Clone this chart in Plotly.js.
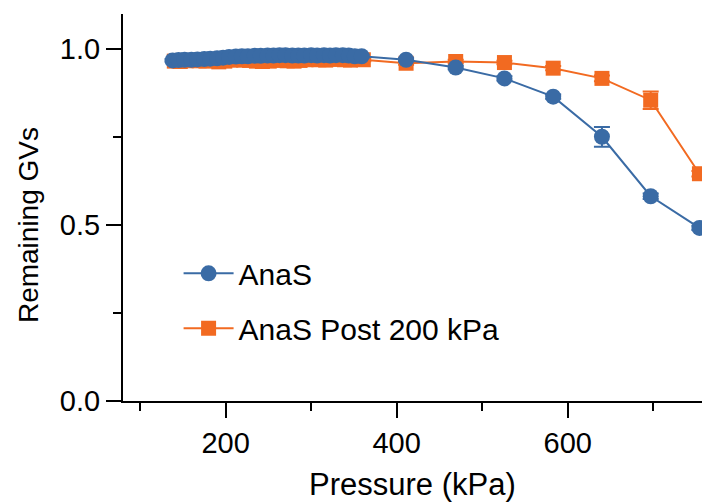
<!DOCTYPE html>
<html>
<head>
<meta charset="utf-8">
<script src="https://cdn.plot.ly/plotly-3.0.1.min.js"></script>
<style>html,body{margin:0;padding:0;background:#fff;}#chart{width:702px;height:502px;}</style>
</head>
<body>
<div id="chart"></div>
<script>
// Pressure (kPa) and remaining GV fraction
const anasPressure = [138, 145, 152, 160, 167, 175, 182, 190, 197, 204, 212, 219, 226, 234, 241, 249, 256, 263, 270, 278, 285, 292, 300, 307, 315, 322, 329, 337, 344, 351, 359, 411, 469, 526, 583, 640, 697, 754];
const anasValue    = [0.968, 0.969, 0.970, 0.970, 0.971, 0.972, 0.973, 0.974, 0.976, 0.978, 0.979, 0.980, 0.980, 0.981, 0.981, 0.982, 0.982, 0.983, 0.983, 0.982, 0.982, 0.982, 0.983, 0.982, 0.983, 0.982, 0.983, 0.983, 0.982, 0.980, 0.980, 0.970, 0.948, 0.917, 0.865, 0.751, 0.582, 0.492];
const anasError    = [0.004, 0.004, 0.004, 0.004, 0.004, 0.004, 0.004, 0.004, 0.004, 0.004, 0.004, 0.004, 0.004, 0.004, 0.004, 0.004, 0.004, 0.004, 0.004, 0.004, 0.004, 0.004, 0.004, 0.004, 0.004, 0.004, 0.004, 0.004, 0.004, 0.004, 0.004, 0.004, 0.005, 0.006, 0.006, 0.028, 0.008, 0.006];

const postPressure = [140, 147, 154, 162, 169, 177, 184, 192, 199, 206, 214, 221, 228, 236, 243, 251, 258, 265, 272, 280, 287, 294, 302, 309, 317, 324, 331, 339, 346, 353, 361, 411, 469, 526, 583, 640, 697, 754];
const postValue    = [0.966, 0.965, 0.967, 0.968, 0.967, 0.966, 0.968, 0.964, 0.966, 0.969, 0.970, 0.969, 0.968, 0.966, 0.965, 0.966, 0.968, 0.970, 0.967, 0.966, 0.968, 0.970, 0.971, 0.970, 0.969, 0.971, 0.972, 0.970, 0.969, 0.971, 0.970, 0.960, 0.965, 0.962, 0.946, 0.917, 0.855, 0.646];
const postError    = [0.004, 0.004, 0.004, 0.004, 0.004, 0.004, 0.004, 0.004, 0.004, 0.004, 0.004, 0.004, 0.004, 0.004, 0.004, 0.004, 0.004, 0.004, 0.004, 0.004, 0.004, 0.004, 0.004, 0.004, 0.004, 0.004, 0.004, 0.004, 0.004, 0.004, 0.004, 0.004, 0.005, 0.005, 0.006, 0.008, 0.025, 0.008];

const seriesNames = ["AnaS", "AnaS Post 200 kPa"];
const xTickVals = [200, 400, 600];
const yTickVals = [0, 0.5, 1.0];
const yTickText = ["0.0", "0.5", "1.0"];

const BLUE = "#3A6BA5";
const ORANGE = "#F26A21";
const FONT = "Liberation Sans, Arial, sans-serif";

const traces = [
  {
    x: postPressure, y: postValue, name: seriesNames[1], type: "scatter", mode: "lines+markers",
    line: {color: ORANGE, width: 2},
    marker: {symbol: "square", size: 15, color: ORANGE},
    error_y: {type: "data", array: postError, visible: true, color: ORANGE, thickness: 2, width: 8},
    legendrank: 2, legendgroup: "b"
  },
  {
    x: anasPressure, y: anasValue, name: seriesNames[0], type: "scatter", mode: "lines+markers",
    line: {color: BLUE, width: 2},
    marker: {symbol: "circle", size: 16, color: BLUE},
    error_y: {type: "data", array: anasError, visible: true, color: BLUE, thickness: 2, width: 8},
    legendrank: 1, legendgroup: "a"
  }
];

const axisCommon = {
  showgrid: false, zeroline: false, showline: true, linecolor: "#000", linewidth: 2,
  ticks: "outside", ticklen: 15, tickwidth: 2, tickcolor: "#000",
  tickfont: {family: FONT, size: 29, color: "#000"}
};

const layout = {
  width: 702, height: 502,
  margin: {l: 123, r: 0, t: 14, b: 101},
  paper_bgcolor: "#fff", plot_bgcolor: "#fff",
  showlegend: true,
  legend: {
    x: 0.096, y: 0.397, xanchor: "left", yanchor: "top",
    font: {family: FONT, size: 30, color: "#000"},
    bgcolor: "rgba(0,0,0,0)", itemwidth: 50, tracegroupgap: 13
  },
  xaxis: Object.assign({}, axisCommon, {
    range: [80, 757], tickmode: "array", tickvals: xTickVals,
    minor: {dtick: 100, tick0: 0, ticks: "outside", ticklen: 8, tickwidth: 2, tickcolor: "#000"}
  }),
  yaxis: Object.assign({}, axisCommon, {
    range: [0, 1.1], tickmode: "array", tickvals: yTickVals, ticktext: yTickText,
    minor: {dtick: 0.25, tick0: 0, ticks: "outside", ticklen: 8, tickwidth: 2, tickcolor: "#000"}
  }),
  annotations: [
    {text: "Pressure (kPa)", xref: "paper", yref: "paper", x: 0.5, y: (401 - 484) / 387,
     xanchor: "center", yanchor: "middle", showarrow: false,
     font: {family: FONT, size: 31, color: "#000"}},
    {text: "Remaining GVs", xref: "paper", yref: "y", x: (28 - 123) / 579, y: 0.5,
     xanchor: "center", yanchor: "middle", showarrow: false, textangle: -90,
     font: {family: FONT, size: 28, color: "#000"}}
  ]
};

Plotly.newPlot("chart", traces, layout, {displayModeBar: false, staticPlot: true});
</script>
</body>
</html>
